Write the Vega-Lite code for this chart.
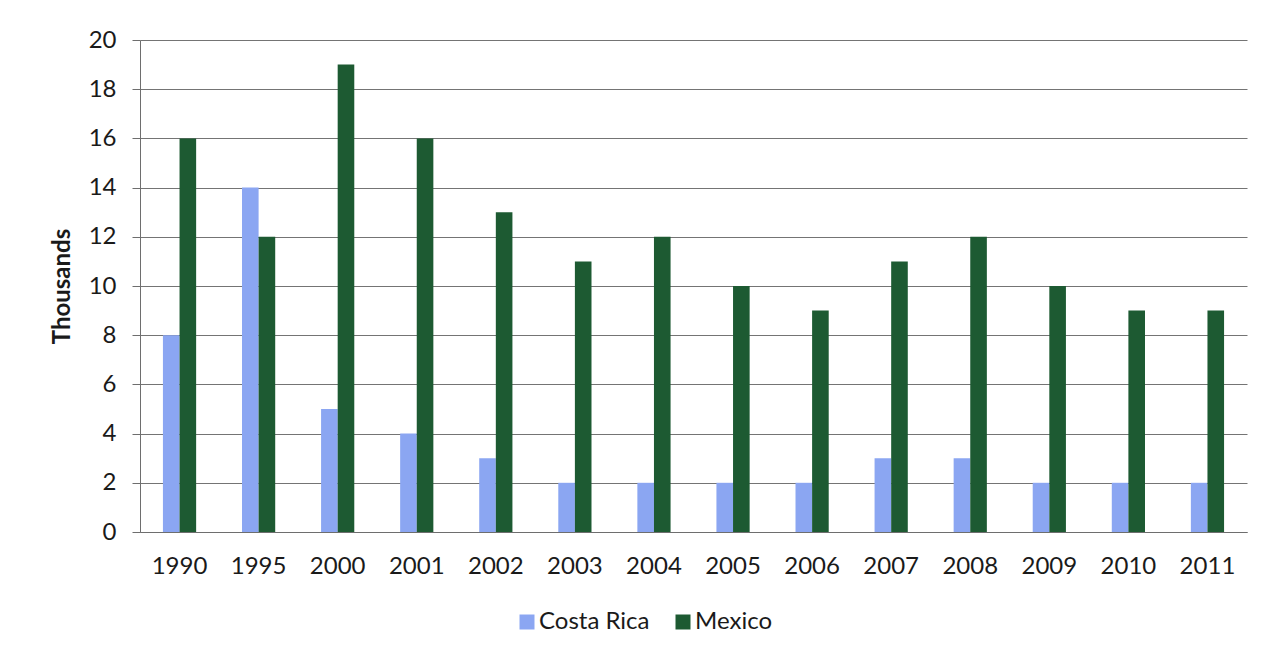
{
  "$schema": "https://vega.github.io/schema/vega-lite/v6.json",
  "width": 1107,
  "height": 492,
  "autosize": {"type": "none"},
  "padding": {"left": 140, "top": 40, "right": 17, "bottom": 123},
  "background": "white",
  "data": {
    "values": [
      {"year": "1990", "country": "Costa Rica", "value": 8},
      {"year": "1990", "country": "Mexico", "value": 16},
      {"year": "1995", "country": "Costa Rica", "value": 14},
      {"year": "1995", "country": "Mexico", "value": 12},
      {"year": "2000", "country": "Costa Rica", "value": 5},
      {"year": "2000", "country": "Mexico", "value": 19},
      {"year": "2001", "country": "Costa Rica", "value": 4},
      {"year": "2001", "country": "Mexico", "value": 16},
      {"year": "2002", "country": "Costa Rica", "value": 3},
      {"year": "2002", "country": "Mexico", "value": 13},
      {"year": "2003", "country": "Costa Rica", "value": 2},
      {"year": "2003", "country": "Mexico", "value": 11},
      {"year": "2004", "country": "Costa Rica", "value": 2},
      {"year": "2004", "country": "Mexico", "value": 12},
      {"year": "2005", "country": "Costa Rica", "value": 2},
      {"year": "2005", "country": "Mexico", "value": 10},
      {"year": "2006", "country": "Costa Rica", "value": 2},
      {"year": "2006", "country": "Mexico", "value": 9},
      {"year": "2007", "country": "Costa Rica", "value": 3},
      {"year": "2007", "country": "Mexico", "value": 11},
      {"year": "2008", "country": "Costa Rica", "value": 3},
      {"year": "2008", "country": "Mexico", "value": 12},
      {"year": "2009", "country": "Costa Rica", "value": 2},
      {"year": "2009", "country": "Mexico", "value": 10},
      {"year": "2010", "country": "Costa Rica", "value": 2},
      {"year": "2010", "country": "Mexico", "value": 9},
      {"year": "2011", "country": "Costa Rica", "value": 2},
      {"year": "2011", "country": "Mexico", "value": 9}
    ]
  },
  "mark": {"type": "bar"},
  "encoding": {
    "x": {
      "field": "year",
      "type": "nominal",
      "sort": null,
      "scale": {"paddingInner": 0.58, "paddingOuter": 0.29},
      "axis": {
        "title": null,
        "labelAngle": 0,
        "labelFont": "Lato",
        "labelFontSize": 24,
        "labelColor": "#1a1a1a",
        "labelPadding": 22,
        "ticks": false,
        "domain": true,
        "domainColor": "#6e6e6e",
        "grid": false
      }
    },
    "xOffset": {"field": "country", "type": "nominal"},
    "y": {
      "field": "value",
      "type": "quantitative",
      "scale": {"domain": [0, 20], "nice": false},
      "axis": {
        "title": "Thousands",
        "titleFont": "Lato",
        "titleFontSize": 24,
        "titleFontWeight": "bold",
        "titleColor": "#1a1a1a",
        "titlePadding": 14,
        "values": [0, 2, 4, 6, 8, 10, 12, 14, 16, 18, 20],
        "labelFont": "Lato",
        "labelFontSize": 24,
        "labelColor": "#1a1a1a",
        "labelPadding": 16,
        "tickSize": 8,
        "tickColor": "#6e6e6e",
        "domain": true,
        "domainColor": "#6e6e6e",
        "grid": true,
        "gridColor": "#747474",
        "gridWidth": 1
      }
    },
    "color": {
      "field": "country",
      "type": "nominal",
      "scale": {"domain": ["Costa Rica", "Mexico"], "range": ["#8ba6f2", "#1d5a32"]},
      "legend": {
        "title": null,
        "orient": "none",
        "legendX": 375,
        "legendY": 570,
        "direction": "horizontal",
        "symbolType": "square",
        "symbolSize": 225,
        "symbolStrokeWidth": 0,
        "labelFont": "Lato",
        "labelFontSize": 24,
        "labelColor": "#1a1a1a",
        "columnPadding": 21,
        "labelOffset": 0
      }
    }
  },
  "config": {
    "view": {"stroke": null}
  }
}
